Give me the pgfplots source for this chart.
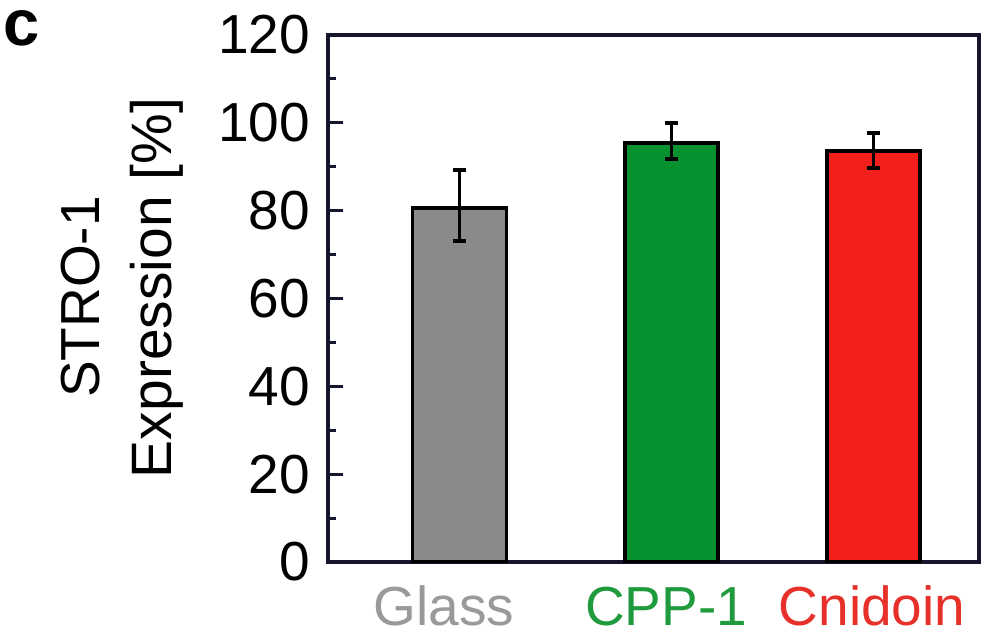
\documentclass[border=0pt]{standalone}
\usepackage{fontspec}
\setmainfont{Liberation Sans}
\usepackage{pgfplots}
\pgfplotsset{compat=1.18}
\definecolor{axcol}{HTML}{15152E}
\definecolor{barGray}{HTML}{8A8A8A}
\definecolor{barGreen}{HTML}{07922F}
\definecolor{barRed}{HTML}{F41F1A}
\definecolor{labGray}{HTML}{9A9A9A}
\definecolor{labGreen}{HTML}{1F9A3C}
\definecolor{labRed}{HTML}{E8302A}
\begin{document}
\begin{tikzpicture}
\begin{axis}[
  name=ax,
  scale only axis, width=651bp, height=527bp,
  xmin=328, xmax=979, ymin=0, ymax=120,
  axis line style={line width=4bp, color=axcol},
  ytick={0,20,...,120}, minor y tick num=1,
  ytick pos=left, tick align=inside,
  major tick length=15bp, minor tick length=8bp,
  every tick/.style={line width=3bp, color=axcol},
  xtick={444,666,872},
  xticklabels={\textcolor{labGray}{Glass}, \textcolor{labGreen}{CPP-1}, \textcolor{labRed}{Cnidoin}},
  xtick style={draw=none},
  tick label style={font=\fontsize{55bp}{60bp}\selectfont},
  /pgf/number format/assume math mode=true,
  yticklabel style={anchor=east, inner sep=0pt, xshift=-18bp},
  xticklabel style={anchor=base, inner sep=0pt, yshift=-63bp},
]
\addplot[ybar, bar shift=0pt, bar width=94, fill=barGray, draw=black, line width=3.5bp,
  error bars/.cd, y dir=both, y explicit,
  error bar style={line width=3.2bp, black},
  error mark options={rotate=90, mark size=6.5bp, line width=3.5bp, black}]
  coordinates {(459.5,80.6) += (0,8.7) -= (0,7.5)};
\addplot[ybar, bar shift=0pt, bar width=93, fill=barGreen, draw=black, line width=3.5bp,
  error bars/.cd, y dir=both, y explicit,
  error bar style={line width=3.2bp, black},
  error mark options={rotate=90, mark size=6.5bp, line width=3.5bp, black}]
  coordinates {(671.5,95.4) += (0,4.6) -= (0,3.6)};
\addplot[ybar, bar shift=0pt, bar width=93, fill=barRed, draw=black, line width=3.5bp,
  error bars/.cd, y dir=both, y explicit,
  error bar style={line width=3.2bp, black},
  error mark options={rotate=90, mark size=6.5bp, line width=3.5bp, black}]
  coordinates {(873.5,93.6) += (0,4.1) -= (0,3.9)};
\end{axis}
\node[rotate=90, inner sep=0pt, anchor=base,
  font=\fontsize{55bp}{60bp}\selectfont]
  at ([shift={(-228bp,265bp)}]ax.south west) {STRO-1};
\node[rotate=90, inner sep=0pt, anchor=base,
  font=\fontsize{57bp}{60bp}\selectfont]
  at ([shift={(-156bp,274bp)}]ax.south west) {Expression [\%]};
\node[font=\fontsize{65bp}{70bp}\selectfont\bfseries, inner sep=0pt]
  at ([shift={(-306bp,534bp)}]ax.south west) {c};
\pgfresetboundingbox
\path ([shift={(-328bp,-73bp)}]ax.south west) rectangle ([shift={(659bp,562bp)}]ax.south west);
\end{tikzpicture}
\end{document}
